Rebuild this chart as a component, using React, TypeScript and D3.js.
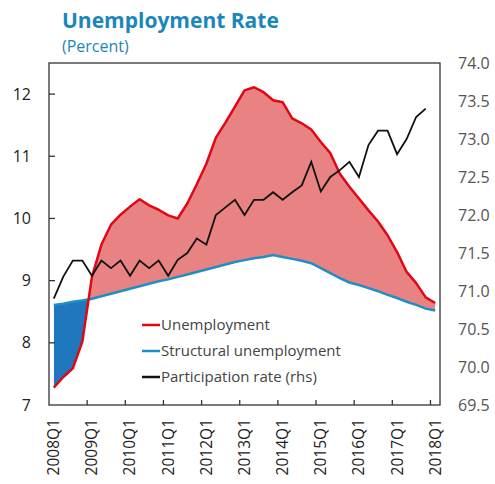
import React, { useEffect, useRef } from 'react';
import * as d3 from 'd3';

// quarters 2008Q1 .. 2018Q1
const years = [2008, 2009, 2010, 2011, 2012, 2013, 2014, 2015, 2016, 2017, 2018];
const quarters = years.flatMap((y) => (y === 2018 ? [`${y}Q1`] : [1, 2, 3, 4].map((q) => `${y}Q${q}`)));

const unemployment = [
  7.28, 7.45, 7.59, 8.02, 9.06, 9.58, 9.9, 10.06, 10.19, 10.31, 10.21, 10.14, 10.05, 10.0,
  10.24, 10.55, 10.88, 11.3, 11.54, 11.8, 12.06, 12.11, 12.03, 11.9, 11.87, 11.61, 11.53,
  11.43, 11.23, 11.05, 10.72, 10.51, 10.32, 10.13, 9.95, 9.73, 9.46, 9.14, 8.96, 8.73, 8.64,
];

const structural = [
  8.61, 8.63, 8.66, 8.68, 8.71, 8.75, 8.79, 8.83, 8.87, 8.91, 8.95, 8.99, 9.02, 9.06, 9.1,
  9.14, 9.18, 9.22, 9.26, 9.3, 9.33, 9.36, 9.38, 9.41, 9.38, 9.35, 9.32, 9.28, 9.2, 9.12,
  9.04, 8.97, 8.93, 8.88, 8.83, 8.77, 8.72, 8.66, 8.61, 8.55, 8.52,
];

// rhs, ends 2017Q4
const participation = [
  70.9, 71.19, 71.4, 71.4, 71.2, 71.4, 71.3, 71.4, 71.2, 71.4, 71.3, 71.4, 71.2, 71.41,
  71.5, 71.69, 71.61, 72.0, 72.1, 72.2, 72.0, 72.2, 72.2, 72.3, 72.2, 72.3, 72.39, 72.7,
  72.31, 72.5, 72.59, 72.7, 72.5, 72.92, 73.11, 73.11, 72.8, 73.0, 73.29, 73.4,
];

const leftTicks = [7, 8, 9, 10, 11, 12];
const rightTicks = [69.5, 70, 70.5, 71, 71.5, 72, 72.5, 73, 73.5, 74];
const legendItems = [
  { label: 'Unemployment', color: '#e30613' },
  { label: 'Structural unemployment', color: '#1e8fc4' },
  { label: 'Participation rate (rhs)', color: '#111' },
];

const FONT = '"Open Sans", "Noto Sans", sans-serif';

const App: React.FC = () => {
  const ref = useRef<SVGSVGElement | null>(null);

  useEffect(() => {
    if (!ref.current) return;
    const svg = d3.select(ref.current);
    svg.selectAll('*').remove();

    const left = 49;
    const right = 440;
    const top = 63;
    const bottom = 405;

    const x = d3.scaleBand<string>().domain(quarters).range([left, right]);
    const xc = (i: number) => (x(quarters[i]) as number) + x.bandwidth() / 2;
    const yL = d3.scaleLinear().domain([7, 12.5]).range([bottom, top]);
    const yR = d3.scaleLinear().domain([69.5, 74]).range([bottom, top]);

    // title
    svg.append('text').attr('x', 62).attr('y', 28).text('Unemployment Rate')
      .attr('font-family', FONT).attr('font-weight', 700).attr('font-size', 21).attr('fill', '#1b87b8');
    svg.append('text').attr('x', 62).attr('y', 52).text('(Percent)')
      .attr('font-family', FONT).attr('font-size', 16).attr('fill', '#1b87b8');

    const defs = svg.append('defs');
    const idx = d3.range(quarters.length);

    defs.append('clipPath').attr('id', 'above').append('path')
      .attr('d', d3.area<number>().x(xc).y0(top).y1((i) => yL(structural[i]))(idx) as string);
    defs.append('clipPath').attr('id', 'below').append('path')
      .attr('d', d3.area<number>().x(xc).y0((i) => yL(structural[i])).y1(bottom)(idx) as string);

    const gap = d3.area<number>().x(xc).y0((i) => yL(structural[i])).y1((i) => yL(unemployment[i]));

    svg.append('path').datum(idx).attr('d', gap).attr('fill', '#e98383').attr('clip-path', 'url(#above)');
    svg.append('path').datum(idx).attr('d', gap).attr('fill', '#1f78bd').attr('clip-path', 'url(#below)');

    const line = (vals: number[], y: d3.ScaleLinear<number, number>) =>
      d3.line<number>().x((_, i) => xc(i)).y((v) => y(v))(vals) as string;

    svg.append('path').attr('d', line(structural, yL)).attr('fill', 'none')
      .attr('stroke', '#1e8fc4').attr('stroke-width', 2.5);
    svg.append('path').attr('d', line(unemployment, yL)).attr('fill', 'none')
      .attr('stroke', '#e30613').attr('stroke-width', 2.5).attr('stroke-linejoin', 'round');
    svg.append('path').attr('d', line(participation, yR)).attr('fill', 'none')
      .attr('stroke', '#111').attr('stroke-width', 1.8);

    // frame
    svg.append('rect').attr('x', left).attr('y', top).attr('width', right - left).attr('height', bottom - top)
      .attr('fill', 'none').attr('stroke', '#333').attr('stroke-width', 1.3);

    // left axis
    const gl = svg.append('g');
    leftTicks.forEach((t) => {
      if (t !== 7) {
        gl.append('line').attr('x1', left).attr('x2', left + 6).attr('y1', yL(t)).attr('y2', yL(t))
          .attr('stroke', '#333').attr('stroke-width', 1.3);
      }
      gl.append('text').attr('x', 31).attr('y', yL(t)).attr('dy', '0.35em').attr('text-anchor', 'end')
        .attr('font-family', FONT).attr('font-size', 16).attr('fill', '#222').text(t);
    });

    // right axis labels
    rightTicks.forEach((t) => {
      svg.append('text').attr('x', 458).attr('y', yR(t)).attr('dy', '0.35em')
        .attr('font-family', FONT).attr('font-size', 16).attr('fill', '#555').text(t.toFixed(1));
    });

    // bottom axis
    quarters.forEach((q, i) => {
      if (!q.endsWith('Q1')) return;
      const bx = x(q) as number;
      if (i > 0) {
        svg.append('line').attr('x1', bx).attr('x2', bx).attr('y1', bottom).attr('y2', bottom - 5)
          .attr('stroke', '#333').attr('stroke-width', 1.3);
      }
      svg.append('text').attr('transform', `translate(${xc(i)},419) rotate(-90)`).attr('dy', '0.35em')
        .attr('text-anchor', 'end').attr('font-family', FONT).attr('font-size', 15.5).attr('fill', '#222')
        .text(q);
    });

    // legend
    legendItems.forEach((d, k) => {
      const ly = 325 + k * 26;
      svg.append('line').attr('x1', 142).attr('x2', 160).attr('y1', ly).attr('y2', ly)
        .attr('stroke', d.color).attr('stroke-width', 2.5);
      svg.append('text').attr('x', 161).attr('y', ly).attr('dy', '0.35em')
        .attr('font-family', FONT).attr('font-size', 15).attr('fill', '#444').text(d.label);
    });
  }, []);

  return <svg ref={ref} width={495} height={484} style={{ position: 'absolute', left: 0, top: 0 }}></svg>;
};

export default App;
